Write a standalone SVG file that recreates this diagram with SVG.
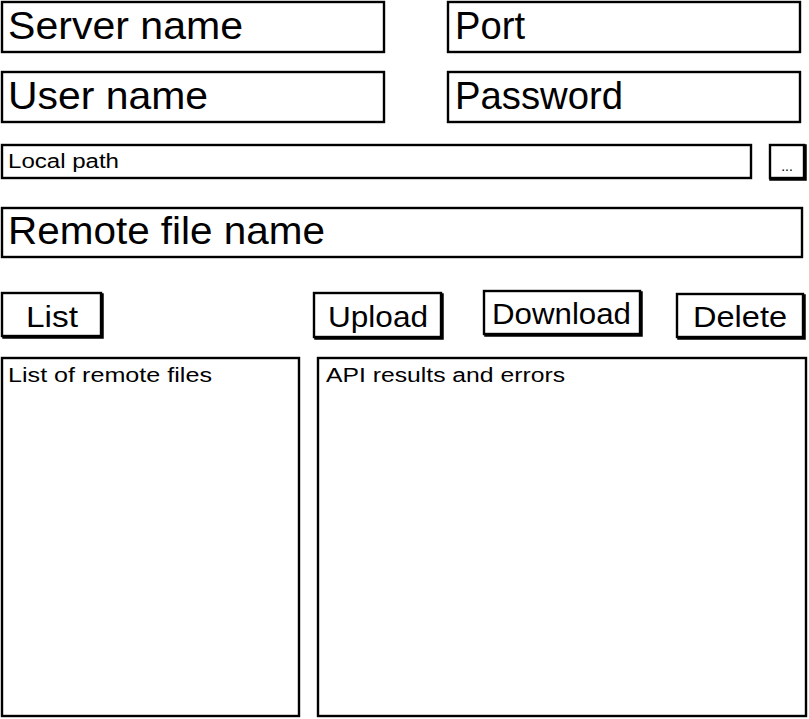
<svg xmlns="http://www.w3.org/2000/svg" width="809" height="719" viewBox="0 0 809 719">
<style>
.box{fill:#fff;stroke:#000;stroke-width:2.4}
.sh{fill:none;stroke:#000;stroke-width:3.5;stroke-linecap:square}
text{font-family:"Liberation Sans",Arial,sans-serif;fill:#000}
.big{font-size:39px}
.mid{font-size:30px}
.sm{font-size:20px}
</style>
<rect width="809" height="719" fill="#fff"/>
<g id="server-name"><rect class="box" x="2" y="2" width="382" height="50"/><text class="big" x="8" y="39" textLength="235" lengthAdjust="spacingAndGlyphs">Server name</text></g>
<g id="port"><rect class="box" x="448" y="2" width="352" height="50"/><text class="big" x="455" y="39" textLength="70" lengthAdjust="spacingAndGlyphs">Port</text></g>
<g id="user-name"><rect class="box" x="2" y="72" width="382" height="50"/><text class="big" x="8" y="109" textLength="200" lengthAdjust="spacingAndGlyphs">User name</text></g>
<g id="password"><rect class="box" x="448" y="72" width="352" height="50"/><text class="big" x="455" y="109" textLength="168" lengthAdjust="spacingAndGlyphs">Password</text></g>
<g id="local-path"><rect class="box" x="2" y="145" width="749" height="33"/><text class="sm" x="8" y="168" textLength="111" lengthAdjust="spacingAndGlyphs">Local path</text></g>
<g id="browse"><rect class="box" x="770" y="145" width="34" height="33"/><polyline class="sh" points="805,146 805,179 771,179"/><text x="787" y="171" font-size="14" text-anchor="middle">...</text></g>
<g id="remote-file-name"><rect class="box" x="2" y="208" width="800" height="49"/><text class="big" x="8" y="244" font-size="37" textLength="317" lengthAdjust="spacingAndGlyphs">Remote file name</text></g>
<g id="btn-list"><rect class="box" x="2" y="293" width="99" height="43"/><polyline class="sh" points="102,295 102,337 4,337"/><text class="mid" x="26" y="327" textLength="52" lengthAdjust="spacingAndGlyphs">List</text></g>
<g id="btn-upload"><rect class="box" x="314" y="293" width="127" height="44"/><polyline class="sh" points="442,295 442,338 316,338"/><text class="mid" x="328" y="327" textLength="100" lengthAdjust="spacingAndGlyphs">Upload</text></g>
<g id="btn-download"><rect class="box" x="484" y="291" width="156" height="43"/><polyline class="sh" points="641,293 641,335 486,335"/><text class="mid" x="492" y="324" textLength="139" lengthAdjust="spacingAndGlyphs">Download</text></g>
<g id="btn-delete"><rect class="box" x="677" y="294" width="126" height="43"/><polyline class="sh" points="804,296 804,338 679,338"/><text class="mid" x="693" y="327" textLength="94" lengthAdjust="spacingAndGlyphs">Delete</text></g>
<g id="remote-files-list"><rect class="box" x="2" y="358" width="297" height="358"/><text class="sm" x="8" y="382" textLength="204" lengthAdjust="spacingAndGlyphs">List of remote files</text></g>
<g id="api-results"><rect class="box" x="318" y="358" width="488" height="358"/><text class="sm" x="326" y="382" textLength="239" lengthAdjust="spacingAndGlyphs">API results and errors</text></g>
<g id="connectors"></g>
</svg>
